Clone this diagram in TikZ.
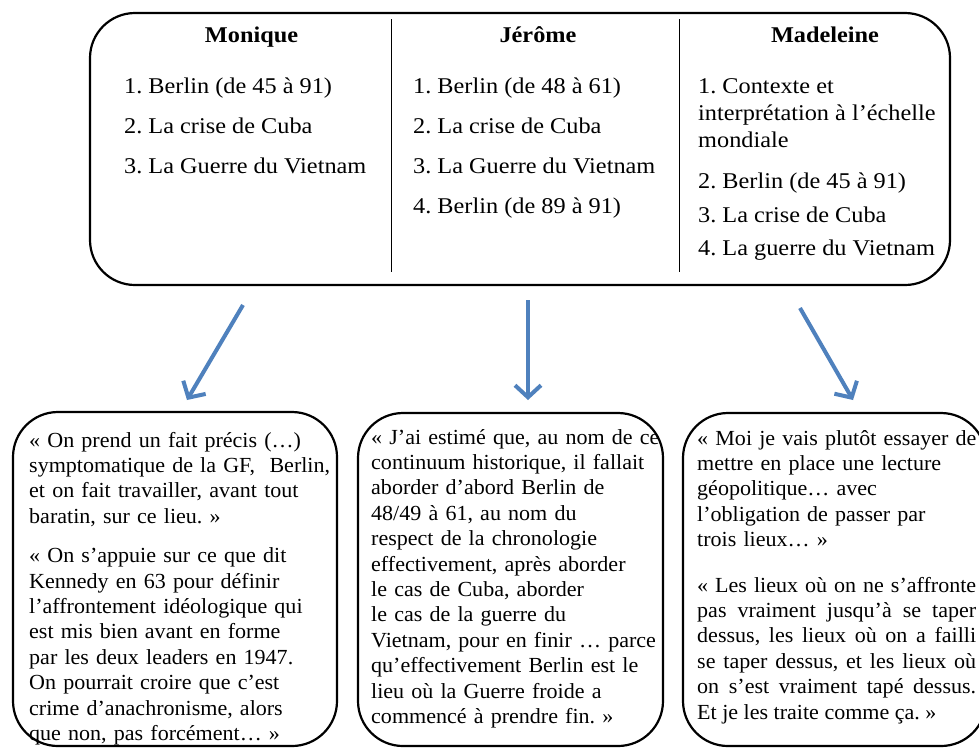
\documentclass[tikz,border=0pt]{standalone}
\usepackage{fontspec}
\setmainfont{Liberation Serif}[FakeStretch=1.08]
\newfontfamily\qfont{Liberation Serif}[FakeStretch=1.025]
\usetikzlibrary{arrows.meta}
\definecolor{arrowblue}{HTML}{4F81BD}
\begin{document}
\frenchspacing
\begin{tikzpicture}[x=1pt,y=-1pt,
  box/.style={draw=black, line width=2.2pt, rounded corners=45pt, inner sep=0pt},
  hdr/.style={anchor=base, inner sep=0pt, font=\fontsize{22.5}{27}\selectfont\bfseries},
  itm/.style={anchor=base west, inner sep=0pt, font=\fontsize{22.5}{27}\selectfont},
  qtext/.style={anchor=base west, inner sep=0pt, align=left, font=\qfont\fontsize{21.5}{25.4}\selectfont},
  qjust/.style={anchor=base west, inner sep=0pt, align=justify, font=\qfont\fontsize{21.5}{25.4}\selectfont},
  conn/.style={draw=arrowblue, line width=4pt, -{Straight Barb[length=12pt,width=26pt]}},
  divider/.style={draw=black, line width=1pt}]
\useasboundingbox (0,0) rectangle (979,748);
\fill[white] (0,0) rectangle (979,748);

% top box
\node[box, minimum width=860pt, minimum height=272pt] (top) at (520,149) {};
\draw[divider] (391,19) -- (391,272);
\draw[divider] (679,19) -- (679,272);

\node[hdr] (hmon) at (251.5,42) {Monique};
\node[hdr] (hjer) at (538,42) {Jérôme};
\node[hdr] (hmad) at (825,42) {Madeleine};

\node[itm] (m1) at (124,93) {1. Berlin (de 45 à 91)};
\node[itm] (m2) at (124,133) {2. La crise de Cuba};
\node[itm] (m3) at (124,173) {3. La Guerre du Vietnam};

\node[itm] (j1) at (413,93) {1. Berlin (de 48 à 61)};
\node[itm] (j2) at (413,133) {2. La crise de Cuba};
\node[itm] (j3) at (413,173) {3. La Guerre du Vietnam};
\node[itm] (j4) at (413,213) {4. Berlin (de 89 à 91)};

\node[itm] (d1a) at (698,93) {1. Contexte et};
\node[itm] (d1b) at (698,120) {interprétation à l’échelle};
\node[itm] (d1c) at (698,147) {mondiale};
\node[itm] (d2) at (698,188) {2. Berlin (de 45 à 91)};
\node[itm] (d3) at (698,222) {3. La crise de Cuba};
\node[itm] (d4) at (698,255) {4. La guerre du Vietnam};

% bottom boxes
\node[box, minimum width=324pt, minimum height=334pt] (bleft) at (175,579) {};
\node[box, minimum width=305pt, minimum height=333pt] (bmid) at (510.5,579.5) {};
\node[box, minimum width=303pt, minimum height=333pt] (bright) at (834.5,579.5) {};

\node[qtext, text width=420pt] (tleft) at (29,447) {%
« On prend un fait précis (…)\\
symptomatique de la GF,~ Berlin,\\
et on fait travailler, avant tout\\
baratin, sur ce lieu. »\\[14pt]
« On s’appuie sur ce que dit\\
Kennedy en 63 pour définir\\
l’affrontement idéologique qui\\
est mis bien avant en forme\\
par les deux leaders en 1947.\\
On pourrait croire que c’est\\
crime d’anachronisme, alors\\
que non, pas forcément… »};

\node[qtext, text width=420pt] (tmid) at (371,444) {%
« J’ai estimé que, au nom de ce\\
continuum historique, il fallait\\
aborder d’abord Berlin de\\
48/49 à 61, au nom du\\
respect de la chronologie\\
effectivement, après aborder\\
le cas de Cuba, aborder\\
le cas de la guerre du\\
Vietnam, pour en finir … parce\\
qu’effectivement Berlin est le\\
lieu où la Guerre froide a\\
commencé à prendre fin. »};

\node[qtext, text width=420pt] (tright1) at (697,445) {%
« Moi je vais plutôt essayer de\\
mettre en place une lecture\\
géopolitique… avec\\
l’obligation de passer par\\
trois lieux… »};

\node[qjust, text width=279pt] (tright2) at (697,592) {%
« Les lieux où on ne s’affronte\linebreak
pas vraiment jusqu’à se taper\linebreak
dessus, les lieux où on a failli\linebreak
se taper dessus, et les lieux où\linebreak
on s’est vraiment tapé dessus.\linebreak
Et je les traite comme ça. »};

% arrows
\coordinate (a1s) at (243,305);
\coordinate (a1e) at (187,400);
\coordinate (a2s) at (528,300);
\coordinate (a2e) at (528,400);
\coordinate (a3s) at (800,308);
\coordinate (a3e) at (853,400);
\draw[conn] (a1s) -- (a1e);
\draw[conn] (a2s) -- (a2e);
\draw[conn] (a3s) -- (a3e);
\end{tikzpicture}
\end{document}
